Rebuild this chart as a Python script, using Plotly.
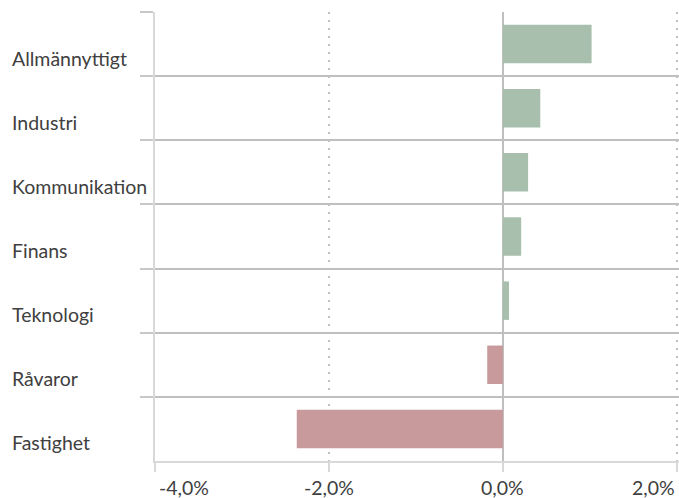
import plotly.graph_objects as go

categories = ["Allmännyttigt", "Industri", "Kommunikation", "Finans", "Teknologi", "Råvaror", "Fastighet"]
values = [1.02, 0.43, 0.29, 0.21, 0.07, -0.18, -2.37]
tick_vals = [-4, -2, 0, 2]
tick_text = ["-4,0%", "-2,0%", "0,0%", "2,0%"]

GREEN = "#A8BFAE"
RED = "#C89A9B"
TEXT = "#404040"
FONT = "Lato"
FS = 19.5

fig = go.Figure()
fig.add_trace(go.Bar(
    x=values, y=categories, orientation="h", width=0.6,
    marker=dict(color=[GREEN if v >= 0 else RED for v in values], line=dict(width=0)),
    hoverinfo="skip",
))

fig.update_layout(
    width=679, height=498,
    margin=dict(l=155, r=0, t=12, b=37),
    paper_bgcolor="white", plot_bgcolor="white",
    showlegend=False,
    font=dict(family=FONT, size=FS, color=TEXT),
    xaxis=dict(
        range=[-4, 2.025], tickvals=tick_vals, showticklabels=False,
        showgrid=True, gridcolor="#bfbfbf", gridwidth=2, griddash="2px,6px",
        zeroline=True, zerolinecolor="#bfbfbf", zerolinewidth=2,
        showline=True, linecolor="#d9d9d9", linewidth=2,
        ticks="outside", ticklen=9, tickcolor="#d9d9d9", tickwidth=2,
        fixedrange=True,
    ),
    yaxis=dict(
        categoryorder="array", categoryarray=categories, autorange="reversed",
        showticklabels=False, tickson="boundaries",
        showgrid=True, gridcolor="#bfbfbf", gridwidth=2,
        ticks="outside", ticklen=13, tickcolor="#c8c8c8", tickwidth=2,
        showline=True, linecolor="#d9d9d9", linewidth=2,
        zeroline=False, fixedrange=True,
    ),
)

annotations = []
for c in categories:
    annotations.append(dict(
        text=c, xref="paper", x=0, xshift=-145, xanchor="left",
        yref="y", y=c, yshift=-14, yanchor="middle", showarrow=False,
        font=dict(family=FONT, size=FS, color=TEXT),
    ))
anchors = ["left", "center", "center", "right"]
for v, t, a in zip(tick_vals, tick_text, anchors):
    annotations.append(dict(
        text=t, x=v, xref="x", xanchor=a, xshift=(2 if a == "left" else 0),
        yref="paper", y=0, yshift=-26, yanchor="middle", showarrow=False,
        font=dict(family=FONT, size=FS, color=TEXT),
    ))
fig.update_layout(annotations=annotations)

fig.write_html(
    "out.html",
    config={"displayModeBar": False},
    post_script="document.body.style.margin='0';document.body.style.overflow='hidden';",
)
